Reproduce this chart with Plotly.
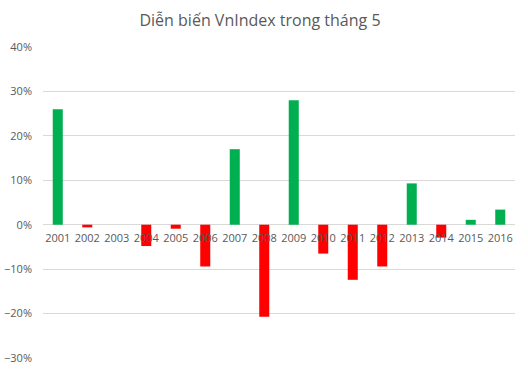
import plotly.graph_objects as go

years = ["2001", "2002", "2003", "2004", "2005", "2006", "2007", "2008",
         "2009", "2010", "2011", "2012", "2013", "2014", "2015", "2016"]
changes = [0.260, -0.006, 0.0, -0.048, -0.009, -0.094, 0.170, -0.207,
           0.280, -0.065, -0.124, -0.094, 0.093, -0.029, 0.011, 0.034]
title_text = "Diễn biến VnIndex trong tháng 5"
y_ticks = [-0.3, -0.2, -0.1, 0.0, 0.1, 0.2, 0.3, 0.4]

colors = ["#00B050" if v >= 0 else "#FF0000" for v in changes]

fig = go.Figure(go.Bar(x=years, y=changes, marker=dict(color=colors, line=dict(width=0))))

fig.update_layout(
    width=528, height=372,
    margin=dict(l=43, r=13, t=47, b=14, autoexpand=False),
    paper_bgcolor="white", plot_bgcolor="white",
    title=dict(text=title_text, x=260 / 528, xref="container", xanchor="center",
               y=1 - 20 / 372, yref="container",
               yanchor="middle", automargin=False,
               font=dict(family="Open Sans", size=16, color="#595959")),
    bargap=0.66,
    showlegend=False,
    font=dict(family="Open Sans", color="#595959", size=11),
)
fig.update_yaxes(range=[-0.3, 0.4], tickvals=y_ticks, tickformat=".0%",
                 showgrid=True, gridcolor="#D9D9D9", gridwidth=1,
                 zeroline=True, zerolinecolor="#D9D9D9", zerolinewidth=1,
                 showline=False, ticks="", ticklabelstandoff=10, automargin=False,
                 tickfont=dict(size=11, color="#595959"))
fig.update_xaxes(type="category", anchor="free", position=3/7, automargin=False,
                 showline=False, showgrid=False, ticks="",
                 tickfont=dict(size=11, color="#595959"), ticklabelstandoff=5)

fig.write_html("out.html", config={"displayModeBar": False},
               post_script="document.body.style.margin='0';document.body.style.overflow='hidden';")
